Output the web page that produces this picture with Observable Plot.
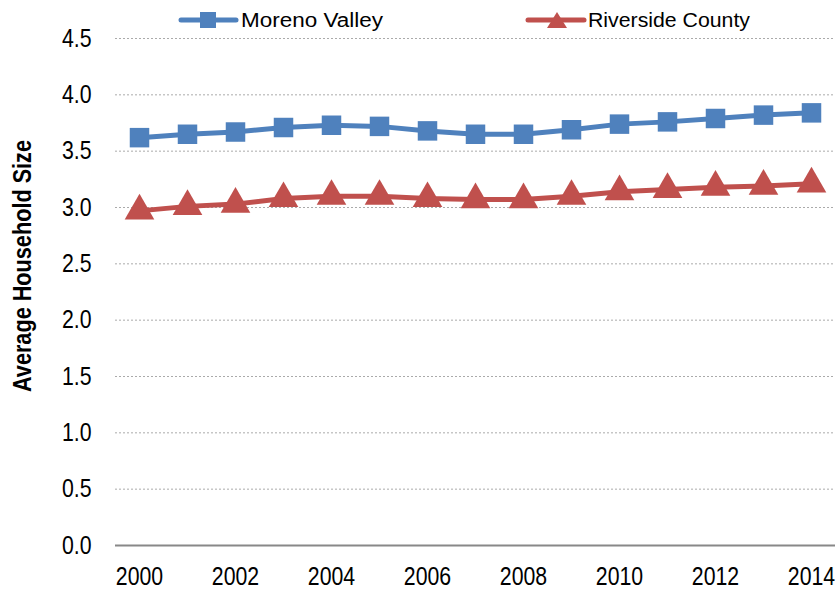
<!DOCTYPE html>
<html><head><meta charset="utf-8">
<script src="https://cdn.jsdelivr.net/npm/d3@7"></script>
<script src="https://cdn.jsdelivr.net/npm/@observablehq/plot@0.6"></script>
<style>
body{margin:0;background:#fff;position:relative;}
#legend{position:absolute;left:0;top:0;z-index:2;overflow:visible;}
#chart{padding-top:28px;}
</style></head>
<body>
<svg id="legend" width="836" height="36"></svg>
<div id="chart"></div>
<script>
const years = [2000,2001,2002,2003,2004,2005,2006,2007,2008,2009,2010,2011,2012,2013,2014];
const morenoValley = [3.62,3.65,3.67,3.71,3.73,3.72,3.68,3.65,3.65,3.69,3.74,3.76,3.79,3.82,3.84];
const riversideCounty = [2.97,3.01,3.03,3.08,3.10,3.10,3.08,3.07,3.07,3.10,3.14,3.16,3.18,3.19,3.21];
const seriesNames = ["Moreno Valley","Riverside County"];
const colors = ["#4F81BD","#C0504D"];
const yTicks = [0,0.5,1,1.5,2,2.5,3,3.5,4,4.5];
const xTicks = [2000,2002,2004,2006,2008,2010,2012,2014];
const yLabel = "Average Household Size";

const data = [];
years.forEach((y,i)=>{
  data.push({year:y, value:morenoValley[i], series:seriesNames[0]});
  data.push({year:y, value:riversideCounty[i], series:seriesNames[1]});
});
const mv = data.filter(d=>d.series===seriesNames[0]);
const rc = data.filter(d=>d.series===seriesNames[1]);

const font = '"Liberation Sans", Arial, sans-serif';
const chart = Plot.plot({
  width: 836, height: 562,
  marginLeft: 115, marginRight: 1, marginTop: 10, marginBottom: 45,
  style: {fontFamily: font, fontSize: "26px", color:"#000", background:"#fff", overflow:"visible"},
  x: {domain:[1999.5,2014.5]},
  y: {domain:[0,4.5]},
  marks: [
    Plot.gridY(yTicks.filter(t=>t>0), {stroke:"#aaa", strokeOpacity:1, strokeDasharray:"2,2", strokeWidth:1}),
    Plot.ruleY([0], {stroke:"#888", strokeWidth:2}),
    Plot.axisY({ticks:yTicks, tickSize:0, tickPadding:24, tickFormat:d=>d.toFixed(1), label:null, fontSize:26}),
    Plot.axisX({ticks:xTicks, tickSize:0, tickPadding:22, tickFormat:"d", label:null, fontSize:25}),
    Plot.text([yLabel], {frameAnchor:"left", textAnchor:"middle", dx:-93, dy:-26, rotate:-90, fontWeight:"bold", fontSize:26}),
    Plot.line(mv, {x:"year", y:"value", stroke:colors[0], strokeWidth:5}),
    Plot.line(rc, {x:"year", y:"value", stroke:colors[1], strokeWidth:5}),
    Plot.dot(mv, {x:"year", y:"value", symbol:"square", r:11, fill:colors[0], stroke:"none"}),
    Plot.dot(rc, {x:"year", y:"value", symbol:"triangle", r:11, fill:colors[1], stroke:"none"})
  ]
});
document.getElementById("chart").appendChild(chart);

// narrow the tick labels (Arial Narrow look)
chart.querySelectorAll('[aria-label="y-axis tick label"] text').forEach(t=>{
  const w = t.getComputedTextLength();
  t.setAttribute("textLength", (w*0.82).toFixed(1));
  t.setAttribute("lengthAdjust","spacingAndGlyphs");
});
chart.querySelectorAll('[aria-label="x-axis tick label"] text').forEach(t=>{
  const w = t.getComputedTextLength();
  t.setAttribute("textLength", (w*0.85).toFixed(1));
  t.setAttribute("lengthAdjust","spacingAndGlyphs");
});
chart.querySelectorAll('text').forEach(t=>{
  if (t.textContent === yLabel) {
    t.setAttribute("textLength", "252");
    t.setAttribute("lengthAdjust","spacingAndGlyphs");
  }
});

// legend
const lg = d3.select("#legend");
const legendItems = [
  {x1:181, x2:236, sx:208, tx:241, tw:142},
  {x1:528, x2:584, sx:557, tx:588, tw:162}
];
seriesNames.forEach((name,i)=>{
  const it = legendItems[i];
  lg.append("line").attr("x1",it.x1).attr("x2",it.x2).attr("y1",20).attr("y2",20)
    .attr("stroke",colors[i]).attr("stroke-width",5).attr("stroke-linecap","round");
  if(i===0){
    lg.append("rect").attr("x",it.sx-8).attr("y",12).attr("width",16).attr("height",16).attr("fill",colors[0]);
  } else {
    lg.append("polygon").attr("points",`${it.sx},12 ${it.sx+10},28 ${it.sx-10},28`).attr("fill",colors[1]);
  }
  lg.append("text").attr("x",it.tx).attr("y",27).attr("font-family",font).attr("font-size",20)
    .attr("textLength",it.tw).attr("lengthAdjust","spacingAndGlyphs").text(name);
});
</script>
</body></html>
